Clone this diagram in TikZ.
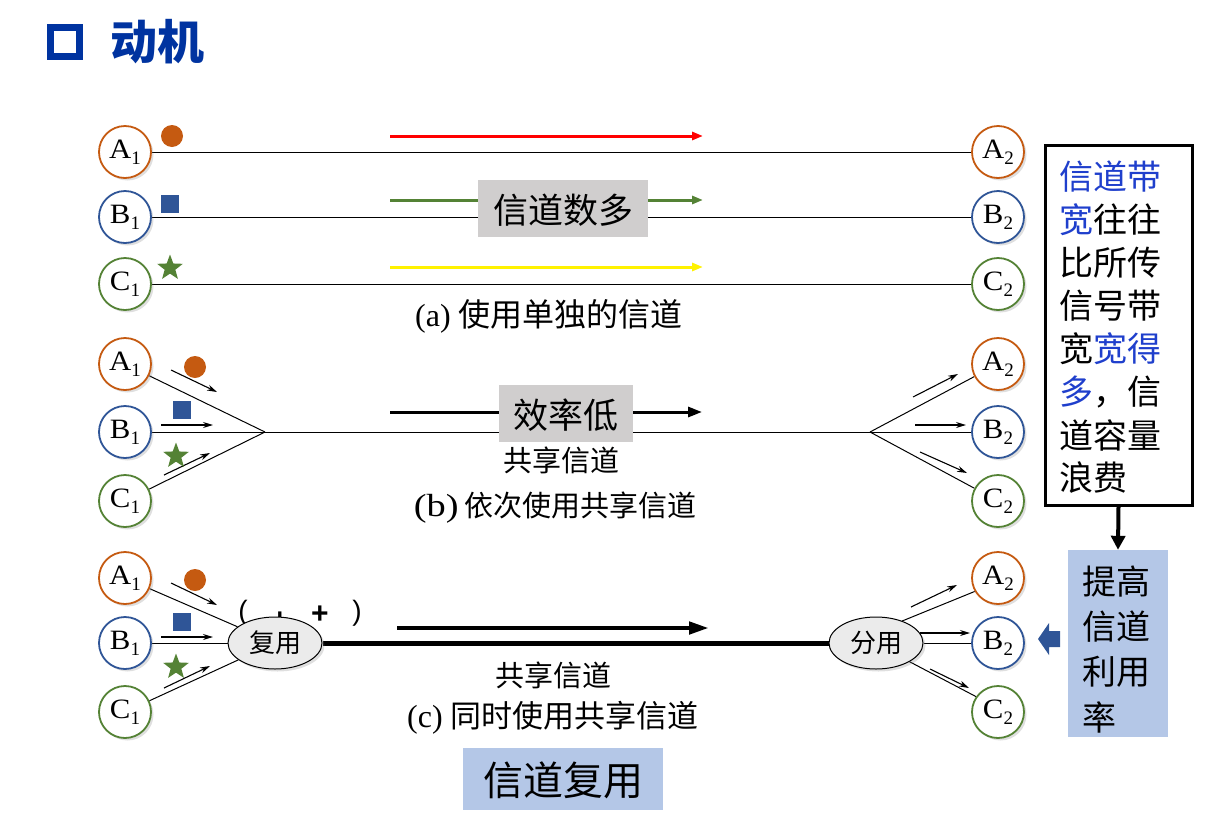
\documentclass[tikz,border=0pt]{standalone}
\usepackage{fontspec}
\usepackage{graphicx}
\setmainfont{Liberation Serif}
\newfontfamily\cjk{Noto Sans CJK SC}
\newfontfamily\lsans{Liberation Sans}
\usetikzlibrary{shapes.geometric,arrows.meta,shadows,backgrounds}
\definecolor{corange}{HTML}{C55A11}
\definecolor{cblue}{HTML}{2F5597}
\definecolor{cgreen}{HTML}{548235}
\definecolor{titleblue}{HTML}{0033A0}
\definecolor{txtblue}{HTML}{1F3FCC}
\definecolor{boxgray}{HTML}{D0CECE}
\definecolor{boxblue}{HTML}{B4C7E7}
\definecolor{ellgray}{HTML}{EBEBEB}
\newcommand\stlabel[2]{\scalebox{1.1}[1]{#1}\raisebox{-6pt}{\fontsize{19}{19}\selectfont #2}}
\begin{document}
\begin{tikzpicture}[x=1pt,y=-1pt,
  station/.style={circle,draw=#1,line width=1.8pt,fill=white,minimum size=52pt,inner sep=0pt,
    font=\fontsize{28}{30}\selectfont,
    drop shadow={opacity=0.25,shadow xshift=2.5pt,shadow yshift=-2.5pt}},
  link/.style={line width=1pt},
  smallarrow/.style={-{Stealth[length=10pt,width=6pt]},line width=1.1pt},
  colarrow/.style={-{Triangle[length=11pt,width=8pt]},line width=3pt},
  graybox/.style={fill=boxgray,draw=none,inner sep=0pt},
  bluebox/.style={fill=boxblue,draw=none,inner sep=0pt},
  cjktext/.style={font=\cjk\fontsize{#1}{#1}\selectfont,inner sep=0pt},
  caption/.style={font=\fontsize{32}{34}\selectfont,inner sep=0pt},
  muxell/.style={ellipse,draw,line width=1pt,fill=ellgray,minimum width=94pt,minimum height=52pt,inner sep=0pt,
    font=\cjk\fontsize{26}{26}\selectfont,
    drop shadow={opacity=0.25,shadow xshift=2.5pt,shadow yshift=-2.5pt}},
  dotsym/.style={circle,fill=corange,minimum size=22pt,inner sep=0pt},
  sqsym/.style={rectangle,fill=cblue,minimum size=18pt,inner sep=0pt},
  starsym/.style={star,star points=5,star point ratio=2.4,fill=cgreen,minimum size=27pt,inner sep=0pt},
  rtext/.style={font=\cjk\fontsize{34}{34}\selectfont,inner sep=0pt,anchor=west},
  plus/.style={font=\lsans\bfseries\fontsize{30}{30}\selectfont,inner sep=0pt},
  paren/.style={font=\lsans\fontsize{28}{28}\selectfont,inner sep=0pt}
]
\useasboundingbox (0,0) rectangle (1212,833);

% title
\node[draw=titleblue,line width=7pt,minimum size=29pt,inner sep=0pt] (titlebox) at (65,42) {};
\node[font=\cjk\bfseries\fontsize{47}{47}\selectfont,text=titleblue,anchor=west,inner sep=0pt] (title) at (110,42) {动机};

% ---------- (a) ----------
\node[station=corange] (a1a) at (125,152) {\stlabel{A}{1}};
\node[station=cblue]   (b1a) at (125,217) {\stlabel{B}{1}};
\node[station=cgreen]  (c1a) at (125,284) {\stlabel{C}{1}};
\node[station=corange] (a2a) at (998,152) {\stlabel{A}{2}};
\node[station=cblue]   (b2a) at (998,217) {\stlabel{B}{2}};
\node[station=cgreen]  (c2a) at (998,284) {\stlabel{C}{2}};
\node[dotsym] (dota) at (172,136) {};
\node[sqsym] (sqa) at (170,204) {};
\node[starsym] (stara) at (170,268) {};
\coordinate (ra1) at (390,136); \coordinate (ra2) at (703,136);
\coordinate (ga1) at (390,200); \coordinate (ga2) at (703,200);
\coordinate (ya1) at (390,267); \coordinate (ya2) at (703,267);
\begin{scope}[on background layer]
\draw[link] (a1a) -- (a2a);
\draw[link] (b1a) -- (b2a);
\draw[link] (c1a) -- (c2a);
\draw[colarrow,red] (ra1) -- (ra2);
\draw[colarrow,cgreen] (ga1) -- (ga2);
\draw[colarrow,yellow] (ya1) -- (ya2);
\end{scope}
\node[graybox,minimum width=170pt,minimum height=57pt] (manybox) at (563,208.5) {};
\node[cjktext=35] (manytxt) at (563,210) {信道数多};
\node[caption] (capa) at (549,316) {(a) {\cjk\fontsize{32}{34}\selectfont 使用单独的信道}};

% ---------- (b) ----------
\node[station=corange] (a1b) at (125,364) {\stlabel{A}{1}};
\node[station=cblue]   (b1b) at (125,432) {\stlabel{B}{1}};
\node[station=cgreen]  (c1b) at (125,501) {\stlabel{C}{1}};
\node[station=corange] (a2b) at (998,364) {\stlabel{A}{2}};
\node[station=cblue]   (b2b) at (998,432) {\stlabel{B}{2}};
\node[station=cgreen]  (c2b) at (998,501) {\stlabel{C}{2}};
\node[dotsym] (dotb) at (195,367) {};
\node[sqsym] (sqb) at (182,410) {};
\node[starsym] (starb) at (176,456) {};
\coordinate (mb) at (265,432);
\coordinate (ob) at (870,432);
\begin{scope}[on background layer]
\draw[link] (a1b) -- (mb);
\draw[link] (b1b) -- (mb);
\draw[link] (c1b) -- (mb);
\draw[link] (mb) -- (ob);
\draw[link] (ob) -- (a2b);
\draw[link] (ob) -- (b2b);
\draw[link] (ob) -- (c2b);
\draw[smallarrow] (171,370) -- (217,392);
\draw[smallarrow] (161,425) -- (213,425);
\draw[smallarrow] (164,475) -- (210,453);
\draw[smallarrow] (913,397) -- (958,374);
\draw[smallarrow] (915,425) -- (966,425);
\draw[smallarrow] (920,452) -- (967,473);
\draw[-{Triangle[length=14pt,width=10pt]},line width=3pt] (390,412) -- (702,412);
\end{scope}
\node[graybox,minimum width=134pt,minimum height=57pt] (lowbox) at (566,413.5) {};
\node[cjktext=35] (lowtxt) at (566,415) {效率低};
\node[cjktext=29] (sharedb) at (561,460) {共享信道};
\node[caption] (capb) at (555,508) {\scalebox{1.2}[1]{(b)}\,{\cjk\fontsize{29}{32}\selectfont 依次使用共享信道}};

% ---------- (c) ----------
\node[station=corange] (a1c) at (125,578) {\stlabel{A}{1}};
\node[station=cblue]   (b1c) at (125,643) {\stlabel{B}{1}};
\node[station=cgreen]  (c1c) at (125,712) {\stlabel{C}{1}};
\node[station=corange] (a2c) at (998,578) {\stlabel{A}{2}};
\node[station=cblue]   (b2c) at (998,643) {\stlabel{B}{2}};
\node[station=cgreen]  (c2c) at (998,712) {\stlabel{C}{2}};
\node[dotsym] (dotc) at (195,580) {};
\node[sqsym] (sqc) at (182,622) {};
\node[starsym] (starc) at (176,667) {};
\node[paren] (pl) at (243,613) {(};
\node[plus] (p1) at (280,621) {+};
\node[plus] (p2) at (320,615) {+};
\node[paren] (pr) at (357,613) {)};
\node[muxell] (mux) at (275,643) {复用};
\node[muxell] (demux) at (876,643) {分用};
\begin{scope}[on background layer]
\draw[link] (a1c) -- (mux);
\draw[link] (b1c) -- (mux);
\draw[link] (c1c) -- (mux);
\draw[line width=5pt] (mux) -- (demux);
\draw[link] (demux.40) -- (a2c.-150);
\draw[link] (demux) -- (b2c);
\draw[link] (demux.south east) -- (c2c.145);
\draw[smallarrow] (171,583) -- (217,605);
\draw[smallarrow] (161,637) -- (213,637);
\draw[smallarrow] (164,688) -- (210,666);
\draw[smallarrow] (911,607) -- (957,585);
\draw[smallarrow] (920,633) -- (970,633);
\draw[smallarrow] (930,669) -- (969,688);
\draw[-{Triangle[length=20pt,width=12pt]},line width=4.5pt] (397,628) -- (709,628);
\end{scope}
\node[cjktext=29] (sharedc) at (553,675) {共享信道};
\node[caption] (capc) at (553,718) {(c) {\cjk\fontsize{31}{34}\selectfont 同时使用共享信道}};
\node[bluebox,minimum width=200pt,minimum height=62pt] (muxbox) at (563,779) {};
\node[cjktext=40] (muxtxt) at (563,780) {信道复用};

% ---------- right ----------
\node[draw,line width=3pt,minimum width=147pt,minimum height=360pt,inner sep=0pt] (wastebox) at (1118.5,325) {};
\node[rtext] (w1) at (1059,177) {\textcolor{txtblue}{信道带}};
\node[rtext] (w2) at (1059,220) {\textcolor{txtblue}{宽}往往};
\node[rtext] (w3) at (1059,263) {比所传};
\node[rtext] (w4) at (1059,306) {信号带};
\node[rtext] (w5) at (1059,349) {宽\textcolor{txtblue}{宽得}};
\node[rtext] (w6) at (1059,392) {\textcolor{txtblue}{多}，信};
\node[rtext] (w7) at (1059,435) {道容量};
\node[rtext] (w8) at (1059,478) {浪费};
\node[bluebox,minimum width=100pt,minimum height=187pt] (upbox) at (1118,643.5) {};
\node[rtext] (u1) at (1082,582) {提高};
\node[rtext] (u2) at (1082,627) {信道};
\node[rtext] (u3) at (1082,672) {利用};
\node[rtext] (u4) at (1082,717) {率};
\draw[-{Triangle[length=14pt,width=14pt]},line width=4pt] (wastebox.south) -- (upbox.north);
\fill[cblue] (1038,639) -- (1049,623) -- (1049,631) -- (1060,631) -- (1060,647) -- (1049,647) -- (1049,655) -- cycle;
\end{tikzpicture}
\end{document}
